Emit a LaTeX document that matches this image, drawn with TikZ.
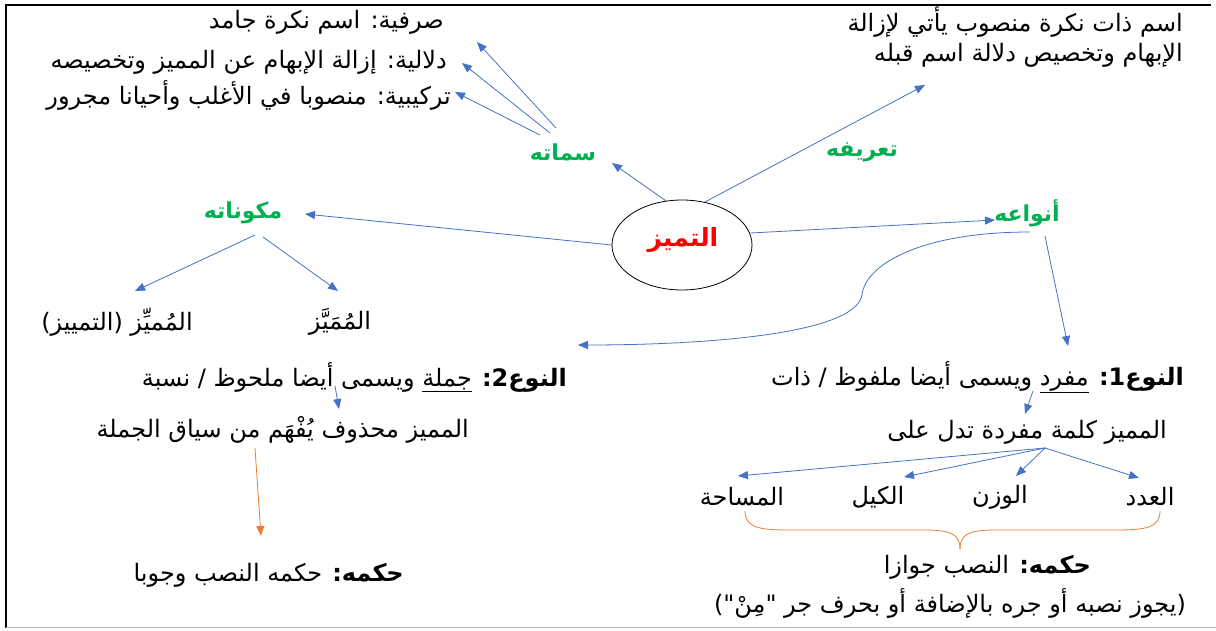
\documentclass[tikz,border=0pt]{standalone}
\usepackage{fontspec}
\setmainfont[Script=Arabic]{DejaVu Sans}
\newfontfamily\plainq{DejaVu Sans}
\TeXXeTstate=1
\usetikzlibrary{arrows.meta,shapes.geometric}
\definecolor{linkblue}{RGB}{68,114,196}
\definecolor{hukmorange}{RGB}{237,125,49}
\definecolor{headgreen}{RGB}{0,176,80}
\newcommand{\ar}[1]{\beginR #1\endR}

\begin{document}
\begin{tikzpicture}[x=1pt,y=-1pt,
    txt/.style={inner sep=1pt,font=\fontsize{24}{28}\selectfont},
    head/.style={inner sep=1pt,font=\fontsize{22}{26}\selectfont\bfseries,text=headgreen},
    link/.style={linkblue,line width=0.8pt,-{Triangle[length=10pt,width=8pt]}},
    hukm/.style={hukmorange,line width=0.8pt}]
    \useasboundingbox (0,0) rectangle (1216,631);
    % frame
    \draw[line width=1.6pt] (6,628) -- (6,5) -- (1211,5);
    \draw[black!30] (6,627) -- (1216,627);

    % centre
    \node[draw,ellipse,line width=0.8pt,minimum width=140pt,minimum height=90pt] (tamyiz) at (682,245) {};
    \node[font=\fontsize{25}{28}\selectfont\bfseries,text=red] (tamyizlabel) at (683,240) {\ar{التميز}};

    % branches
    \node[head] (simat) at (563,152) {\ar{سماته}};
    \node[head] (tarif) at (862,152) {\ar{تعريفه}};
    \node[head] (mukawwin) at (243,213) {\ar{مكوناته}};
    \node[head] (anwa) at (1027,213) {\ar{أنواعه}};

    % features
    \node[txt,anchor=east] (sarf) at (445,22) {\ar{صرفية: اسم نكرة جامد}};
    \node[txt,anchor=east] (dalala) at (448,62) {\ar{دلالية: إزالة الإبهام عن المميز وتخصيصه}};
    \node[txt,anchor=east] (tarkib) at (452,95) {\ar{تركيبية: منصوبا في الأغلب وأحيانا مجرور}};

    % definition
    \node[txt,anchor=east] (def1) at (1184,22) {\ar{اسم ذات نكرة منصوب يأتي لإزالة}};
    \node[txt,anchor=east] (def2) at (1184,55) {\ar{الإبهام وتخصيص دلالة اسم قبله}};

    % components
    \node[txt] (mumayyaz) at (340,322) {\ar{المُمَيَّز}};
    \node[txt] (mumayyiz) at (117,322) {\ar{المُميِّز (التمييز)}};

    % type 2
    \node[txt,anchor=east] (naw2) at (568,377) {\ar{{\bfseries النوع\beginL2\endL:} \underline{جملة} ويسمى أيضا ملحوظ / نسبة}};
    \node[txt,anchor=east] (mahdhuf) at (470,430) {\ar{المميز محذوف يُفْهَم من سياق الجملة}};
    \node[txt,anchor=east] (hukm2) at (405,575) {\ar{{\bfseries حكمه:} حكمه النصب وجوبا}};

    % type 1
    \node[txt,anchor=east] (naw1) at (1185,377) {\ar{{\bfseries النوع\beginL1\endL:} \underline{مفرد} ويسمى أيضا ملفوظ / ذات}};
    \node[txt,anchor=east] (kalima) at (1168,432) {\ar{المميز كلمة مفردة تدل على}};
    \node[txt] (adad) at (1150,497) {\ar{العدد}};
    \node[txt] (wazn) at (1000,497) {\ar{الوزن}};
    \node[txt] (kayl) at (878,497) {\ar{الكيل}};
    \node[txt] (misaha) at (742,497) {\ar{المساحة}};
    \node[txt,anchor=east] (hukm1) at (1092,567) {\ar{{\bfseries حكمه:} النصب جوازا}};
    \node[txt] (jawaz) at (950,603) {\ar{(يجوز نصبه أو جره بالإضافة أو بحرف جر {\plainq"}مِنْ{\plainq"})}};

    % connectors from the centre
    \coordinate (tosimat) at (612,163);
    \coordinate (totarif) at (925,85);
    \coordinate (tomukawwin) at (305,214);
    \coordinate (toanwa) at (995,220);
    \draw[link] (tamyiz.110) -- (tosimat);
    \draw[link] (tamyiz.62) -- (totarif);
    \draw[link] (tamyiz.west) -- (tomukawwin);
    \draw[link] (tamyiz.10) -- (toanwa);

    % features
    \coordinate (s1) at (556,128);
    \coordinate (s2) at (550,133);
    \coordinate (s3) at (540,135);
    \draw[link] (s1) -- (477,42);
    \draw[link] (s2) -- (462,63);
    \draw[link] (s3) -- (455,92);

    % components
    \coordinate (m1) at (255,235);
    \coordinate (m2) at (263,237);
    \draw[link] (m1) -- (135,291);
    \draw[link] (m2) -- (338,291);

    % types
    \coordinate (a1) at (1030,232);
    \coordinate (a2) at (1045,236);
    \coordinate (tonaw2) at (578,345);
    \coordinate (tonaw1) at (1068,346);
    \draw[link] (a1) .. controls (920,232) and (865,265) .. (862,295)
        .. controls (855,335) and (700,345) .. (tonaw2);
    \draw[link] (a2) -- (tonaw1);

    % type 2 chain
    \draw[link] (335,386) -- (339,409);
    \draw[hukmorange,line width=0.8pt,-{Triangle[length=10pt,width=8pt]}] (255,448) -- (261,536);

    % type 1 chain
    \draw[link] (1033,391) -- (1025,414);
    \coordinate (k) at (1045,448);
    \draw[link] (k) -- (1139,478);
    \draw[link] (k) -- (1016,476);
    \draw[link] (k) -- (904,477);
    \draw[link] (k) -- (738,476);

    % brace
    \draw[hukm] (745,511) .. controls (745,528) and (760,530) .. (790,530)
        -- (925,530) .. controls (952,530) and (960,535) .. (960,549);
    \draw[hukm] (1160,511) .. controls (1160,528) and (1145,530) .. (1115,530)
        -- (995,530) .. controls (968,530) and (960,535) .. (960,549);
\end{tikzpicture}
\end{document}
